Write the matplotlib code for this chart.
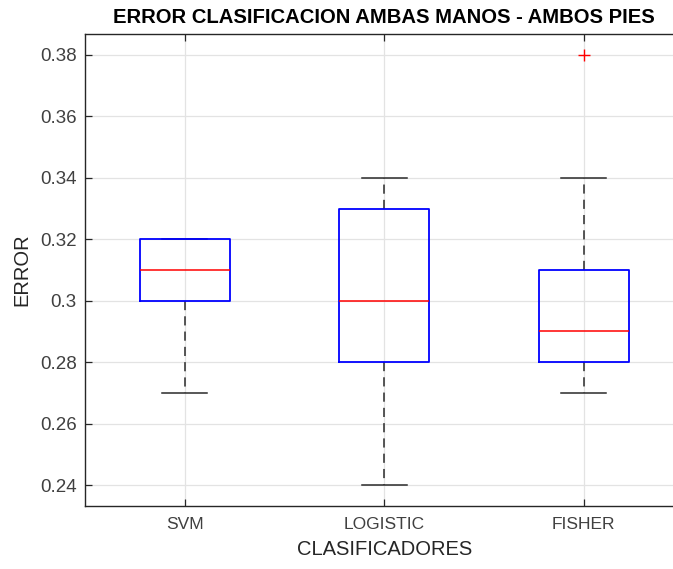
import matplotlib
matplotlib.use("Agg")
import matplotlib.pyplot as plt

plt.rcParams['font.family'] = ['Liberation Sans', 'DejaVu Sans']

# Box statistics
labels = ["SVM", "LOGISTIC", "FISHER"]
whislo = [0.27, 0.24, 0.27]
q1 = [0.30, 0.28, 0.28]
med = [0.31, 0.30, 0.29]
q3 = [0.32, 0.33, 0.31]
whishi = [0.32, 0.34, 0.34]
fliers = [[], [], [0.38]]

yticks = [0.24, 0.26, 0.28, 0.30, 0.32, 0.34, 0.36, 0.38]
ytick_labels = ["0.24", "0.26", "0.28", "0.3", "0.32", "0.34", "0.36", "0.38"]

stats = []
for i in range(len(labels)):
    stats.append(dict(label=labels[i], whislo=whislo[i], q1=q1[i], med=med[i],
                      q3=q3[i], whishi=whishi[i], fliers=fliers[i]))

fig = plt.figure(figsize=(6.73, 5.69), dpi=100)
ax = fig.add_axes([0.1263, 0.1113, 0.8893, 0.8289])

ax.bxp(stats, positions=[1, 2, 3], widths=0.45,
       boxprops=dict(color='#0000ff', linewidth=1.3, zorder=4),
       medianprops=dict(color='#ff0000', linewidth=1.1, zorder=5),
       whiskerprops=dict(color='#2a2a2a', linewidth=1.1, linestyle=(0, (6, 4)), zorder=3),
       capprops=dict(color='#2a2a2a', linewidth=1.1, zorder=3),
       flierprops=dict(marker='+', markeredgecolor='#ff0000', markersize=9,
                       markeredgewidth=1.0, linestyle='none'),
       capwidths=0.225)

ax.set_xlim(0.5, 3.5)
ax.set_ylim(0.2333, 0.3868)
ax.set_yticks(yticks)
ax.set_yticklabels(ytick_labels)
ax.set_xticks([1, 2, 3])
ax.set_xticklabels(labels)

ax.grid(True, color='#e3e3e3', linewidth=0.9)
ax.set_axisbelow(True)
for s in ax.spines.values():
    s.set_color('#262626')
    s.set_linewidth(1.0)
ax.tick_params(direction='in', length=5, width=0.9, color='#262626',
               labelcolor='#404040', top=True, right=True)
ax.tick_params(axis='x', labelsize=12.5, pad=8)
ax.tick_params(axis='y', labelsize=13.5, pad=6)

ax.set_title("ERROR CLASIFICACION AMBAS MANOS - AMBOS PIES", fontsize=14.6,
             fontweight='bold', pad=8)
ax.set_xlabel("CLASIFICADORES", fontsize=14.5, color='#262626', labelpad=6)
ax.set_ylabel("ERROR", fontsize=14.5, color='#262626', labelpad=6)

fig.savefig("out.png", dpi=100)
